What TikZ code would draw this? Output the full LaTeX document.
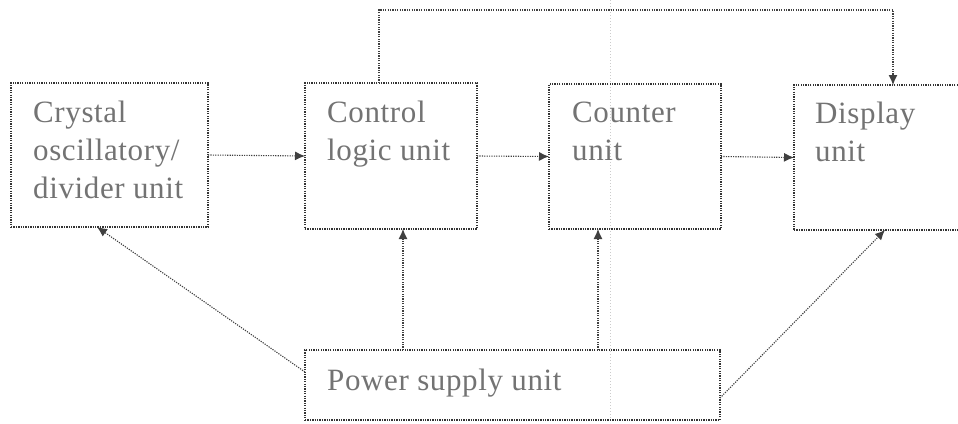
\documentclass[tikz,border=0pt]{standalone}
\usepackage{fontspec}
\setmainfont{Liberation Serif}[LetterSpace=2]
\usetikzlibrary{arrows.meta}
\begin{document}
\begin{tikzpicture}[x=1pt,y=-1pt,
  unitbox/.style={draw=black!80, line width=1.3pt, dash pattern=on 1.3pt off 1.1pt,
    inner sep=0pt, outer sep=0pt, anchor=north west},
  lbl/.style={anchor=base west, inner sep=0pt, text=black!55,
    font=\fontsize{31}{38}\selectfont},
  link/.style={draw=black!75, line width=1.1pt, dash pattern=on 1.2pt off 1.2pt,
    -{Latex[length=10pt,width=9pt]}}]
  \useasboundingbox (0,0) rectangle (958,423);
  \clip (0,0) rectangle (958,423);

  % faint vertical trace
  \draw[black!20, line width=0.8pt, dash pattern=on 1pt off 2pt] (610,0) -- (610,423);

  % blocks
  \node[unitbox, minimum width=197pt, minimum height=144pt] (crys) at (11,83) {};
  \node[unitbox, minimum width=172pt, minimum height=146pt] (ctrl) at (305,83) {};
  \node[unitbox, minimum width=172pt, minimum height=145pt] (cnt) at (549,84) {};
  \node[unitbox, minimum width=181pt, minimum height=145pt] (disp) at (794,85) {};
  \node[unitbox, minimum width=415pt, minimum height=70pt] (pwr) at (305,350) {};

  % block texts
  \node[lbl] (crys1) at (33,122) {Crystal};
  \node[lbl] (crys2) at (33,160) {oscillatory/};
  \node[lbl] (crys3) at (33,198) {divider unit};
  \node[lbl] (ctrl1) at (327,122) {Control};
  \node[lbl] (ctrl2) at (327,160) {logic unit};
  \node[lbl] (cnt1) at (572,122) {Counter};
  \node[lbl] (cnt2) at (572,160) {unit};
  \node[lbl] (disp1) at (815,123) {Display};
  \node[lbl] (disp2) at (815,161) {unit};
  \node[lbl] (pwr1) at (327,390) {Power supply unit};

  % signal chain
  \draw[link] (crys.east) -- (ctrl.west);
  \draw[link] (ctrl.east) -- (cnt.west);
  \draw[link] (cnt.east) -- (disp.west);

  % feedback path over the top
  \coordinate (fbL) at (379,10);
  \coordinate (fbR) at (893,10);
  \draw[link] (fbL |- ctrl.north) -- (fbL) -- (fbR) -- (fbR |- disp.north);

  % supply lines
  \coordinate (sC) at (403,0);
  \coordinate (sN) at (598,0);
  \draw[link] ([yshift=13pt]pwr.west) -- ([xshift=-12.5pt]crys.south);
  \draw[link] (sC |- pwr.north) -- (sC |- ctrl.south);
  \draw[link] (sN |- pwr.north) -- (sN |- cnt.south);
  \draw[link] ([yshift=-13pt]pwr.east) -- ([xshift=0.5pt]disp.south);
\end{tikzpicture}
\end{document}
